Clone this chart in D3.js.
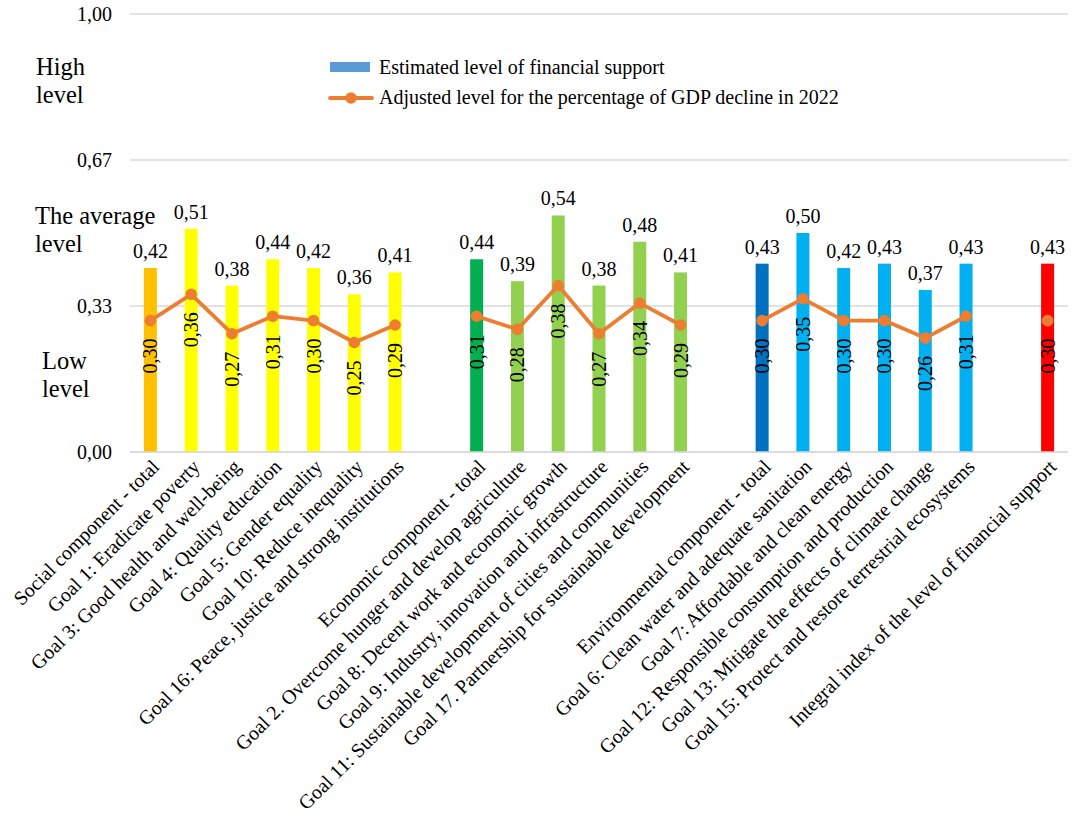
<!DOCTYPE html>
<html>
<head>
<meta charset="utf-8">
<script src="https://cdn.jsdelivr.net/npm/d3@7"></script>
<style>
  body { margin: 0; background: #fff; font-family: 'Liberation Serif'; }
</style>
</head>
<body>
<div id="chart"></div>
<script>
// categories (gap slots separate the groups)
const categories = [
  'Social component - total',
  'Goal 1: Eradicate poverty',
  'Goal 3: Good health and well-being',
  'Goal 4: Quality education',
  'Goal 5: Gender equality',
  'Goal 10: Reduce inequality',
  'Goal 16: Peace, justice and strong institutions',
  'gap1',
  'Economic component - total',
  'Goal 2. Overcome hunger and develop agriculture',
  'Goal 8: Decent work and economic growth',
  'Goal 9: Industry, innovation and infrastructure',
  'Goal 11: Sustainable development of cities and communities',
  'Goal 17. Partnership for sustainable development',
  'gap2',
  'Environmental component - total',
  'Goal 6: Clean water and adequate sanitation',
  'Goal 7: Affordable and clean energy',
  'Goal 12: Responsible consumption and production',
  'Goal 13: Mitigate the effects of climate change',
  'Goal 15: Protect and restore terrestrial ecosystems',
  'gap3',
  'Integral index of the level of financial support'
];

// estimated level of financial support (bars), null for gaps
const supportLevel = [
  0.42, 0.51, 0.38, 0.44, 0.42, 0.36, 0.41, null,
  0.44, 0.39, 0.54, 0.38, 0.48, 0.41, null,
  0.43, 0.50, 0.42, 0.43, 0.37, 0.43, null,
  0.43
];

// adjusted level for GDP decline (line)
const adjustedLevel = [
  0.30, 0.36, 0.27, 0.31, 0.30, 0.25, 0.29, null,
  0.31, 0.28, 0.38, 0.27, 0.34, 0.29, null,
  0.30, 0.35, 0.30, 0.30, 0.26, 0.31, null,
  0.30
];

const barColors = [
  '#FFC000', '#FFFF00', '#FFFF00', '#FFFF00', '#FFFF00', '#FFFF00', '#FFFF00', null,
  '#00B050', '#92D050', '#92D050', '#92D050', '#92D050', '#92D050', null,
  '#0070C0', '#00B0F0', '#00B0F0', '#00B0F0', '#00B0F0', '#00B0F0', null,
  '#FF0000'
];

const yTicks = [0, 1 / 3, 2 / 3, 1];
const yTickLabels = ['0,00', '0,33', '0,67', '1,00'];
const levelLabels = [
  { lines: ['High', 'level'], y: 0.86, x: 36 },
  { lines: ['The average', 'level'], y: 0.52, x: 35 },
  { lines: ['Low', 'level'], y: 0.19, x: 42 }
];
const legendLabels = ['Estimated level of financial support', 'Adjusted level for the percentage of GDP decline in 2022'];

const FONT = 'Liberation Serif';
const W = 1074, H = 821;
const margin = { top: 14, right: 6, bottom: 369, left: 130 };
const width = W - margin.left - margin.right;
const height = H - margin.top - margin.bottom;
const fmt = v => v.toFixed(2).replace('.', ',');
const isGap = c => c.startsWith('gap');

const svg = d3.select('#chart').append('svg')
  .attr('width', W)
  .attr('height', H)
  .attr('font-family', FONT);

const g = svg.append('g')
  .attr('transform', `translate(${margin.left},${margin.top})`);

const x = d3.scaleBand()
  .domain(categories)
  .range([0, width])
  .padding(0);

const y = d3.scaleLinear()
  .domain([0, 1])
  .range([height, 0]);

// gridlines
g.selectAll('.grid')
  .data(yTicks)
  .enter()
  .append('line')
  .attr('x1', 0)
  .attr('x2', width)
  .attr('y1', d => y(d))
  .attr('y2', d => y(d))
  .attr('stroke', '#D9D9D9')
  .attr('stroke-width', 1.3);

// y axis labels
const yAxis = g.append('g')
  .call(d3.axisLeft(y).tickValues(yTicks).tickFormat((d, i) => yTickLabels[i]).tickSize(0).tickPadding(18));
yAxis.attr('font-family', FONT).attr('font-size', 20);
yAxis.select('.domain').remove();
yAxis.selectAll('text')
  .attr('fill', '#000')
  .attr('font-family', FONT);

// level labels on the left
levelLabels.forEach(l => {
  const t = svg.append('text')
    .attr('x', l.x)
    .attr('y', margin.top + y(l.y))
    .attr('font-family', FONT)
    .attr('font-size', 24.5);
  l.lines.forEach((s, i) => {
    t.append('tspan')
      .attr('x', l.x)
      .attr('dy', i === 0 ? 0 : 28)
      .text(s);
  });
});

const barW = 13;
const cx = d => x(d) + x.bandwidth() / 2;

const rows = categories.map((c, i) => ({
  cat: c, bar: supportLevel[i], adj: adjustedLevel[i], color: barColors[i]
}));
const realRows = rows.filter(d => d.bar !== null);

// bars
g.selectAll('.bar')
  .data(realRows)
  .enter()
  .append('rect')
  .attr('class', 'bar')
  .attr('x', d => cx(d.cat) - barW / 2)
  .attr('width', barW)
  .attr('y', d => y(d.bar))
  .attr('height', d => height - y(d.bar))
  .attr('fill', d => d.color);

// x axis baseline
g.append('line')
  .attr('x1', 0).attr('x2', width)
  .attr('y1', height).attr('y2', height)
  .attr('stroke', '#D9D9D9')
  .attr('stroke-width', 1.3);

// line
const line = d3.line()
  .defined(d => d.adj !== null)
  .x(d => cx(d.cat))
  .y(d => y(d.adj));

g.append('path')
  .datum(rows)
  .attr('fill', 'none')
  .attr('stroke', '#ED7D31')
  .attr('stroke-width', 3.8)
  .attr('stroke-linejoin', 'round')
  .attr('d', line);

g.selectAll('.dot')
  .data(realRows)
  .enter()
  .append('circle')
  .attr('cx', d => cx(d.cat))
  .attr('cy', d => y(d.adj))
  .attr('r', 5.8)
  .attr('fill', '#ED7D31');

// bar value labels
g.selectAll('.barlabel')
  .data(realRows)
  .enter()
  .append('text')
  .attr('x', d => cx(d.cat))
  .attr('y', d => y(d.bar) - 10)
  .attr('text-anchor', 'middle')
  .attr('font-family', FONT)
  .attr('font-size', 20)
  .text(d => fmt(d.bar));

// line value labels (rotated, inside bars)
g.selectAll('.adjlabel')
  .data(realRows)
  .enter()
  .append('text')
  .attr('transform', d => `translate(${cx(d.cat) + 7},${y(d.adj) + 18}) rotate(-90)`)
  .attr('text-anchor', 'end')
  .attr('font-family', FONT)
  .attr('font-size', 20)
  .text(d => fmt(d.adj));

// category labels
const xAxis = g.append('g')
  .attr('transform', `translate(0,${height})`)
  .call(d3.axisBottom(x).tickSize(0).tickFormat(d => isGap(d) ? '' : d));
xAxis.attr('font-family', FONT).attr('font-size', 20);
xAxis.select('.domain').remove();
xAxis.selectAll('text')
  .attr('transform', 'translate(5,11) rotate(-45)')
  .attr('text-anchor', 'end')
  .attr('fill', '#000')
  .attr('dy', '0.35em')
  .attr('y', 0)
  .attr('x', 0)
  .attr('font-family', FONT);

// legend
const legend = svg.append('g').attr('transform', 'translate(330, 67)');
legend.append('rect')
  .attr('x', 0).attr('y', -5)
  .attr('width', 40).attr('height', 10)
  .attr('fill', '#5B9BD5');
legend.append('text')
  .attr('x', 49).attr('y', 7)
  .attr('font-family', FONT)
  .attr('font-size', 20)
  .text(legendLabels[0]);
legend.append('line')
  .attr('x1', 0).attr('x2', 42)
  .attr('y1', 31).attr('y2', 31)
  .attr('stroke', '#ED7D31')
  .attr('stroke-width', 3.8)
  .attr('stroke-linecap', 'round');
legend.append('circle')
  .attr('cx', 21).attr('cy', 31).attr('r', 5.8)
  .attr('fill', '#ED7D31');
legend.append('text')
  .attr('x', 49).attr('y', 37)
  .attr('font-family', FONT)
  .attr('font-size', 20)
  .text(legendLabels[1]);
</script>
</body>
</html>
